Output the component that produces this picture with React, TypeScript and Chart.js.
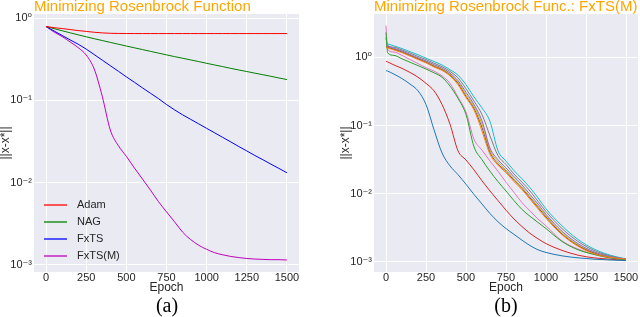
import React, { useEffect, useRef } from 'react';
import { Chart, registerables } from 'chart.js';

Chart.register(...registerables);

// ---------- Data: left panel (a) ----------
const epochsA = [0, 50, 100, 150, 200, 250, 300, 350, 400, 450, 500, 550, 600, 650, 700, 750, 800, 850, 900, 950, 1000, 1050, 1100, 1150, 1200, 1250, 1300, 1350, 1400, 1450, 1500];
const adam = [0.789, 0.765, 0.745, 0.725, 0.705, 0.688, 0.672, 0.66, 0.653, 0.65, 0.649, 0.648, 0.648, 0.648, 0.648, 0.648, 0.648, 0.648, 0.648, 0.648, 0.648, 0.648, 0.648, 0.648, 0.648, 0.648, 0.648, 0.648, 0.648, 0.648, 0.648];
const nag = [0.789, 0.743, 0.701, 0.662, 0.625, 0.592, 0.561, 0.533, 0.506, 0.481, 0.457, 0.435, 0.414, 0.394, 0.375, 0.357, 0.34, 0.325, 0.31, 0.296, 0.282, 0.269, 0.257, 0.245, 0.234, 0.224, 0.214, 0.205, 0.196, 0.187, 0.179];
const fxts = [0.789, 0.697, 0.615, 0.543, 0.481, 0.42, 0.36, 0.308, 0.264, 0.226, 0.193, 0.166, 0.142, 0.122, 0.105, 0.0891, 0.0767, 0.0668, 0.0589, 0.0519, 0.0457, 0.0403, 0.0355, 0.0313, 0.0275, 0.0243, 0.0214, 0.019, 0.0168, 0.0149, 0.0132];
const fxtsM = [0.789, 0.676, 0.596, 0.513, 0.437, 0.355, 0.24, 0.112, 0.0437, 0.0282, 0.0209, 0.0151, 0.0111, 0.00813, 0.00589, 0.00442, 0.00335, 0.00251, 0.00204, 0.00174, 0.00155, 0.00141, 0.00133, 0.00127, 0.00123, 0.0012, 0.00118, 0.00117, 0.00116, 0.00116, 0.00115];
const namesA = ['Adam', 'NAG', 'FxTS', 'FxTS(M)'];
const colorsA = ['#ff0000', '#008000', '#0000ff', '#bf00bf'];

// ---------- Data: right panel (b) ----------
const epochsB = [0, 10, 50, 100, 150, 200, 250, 300, 350, 400, 450, 500, 550, 600, 650, 700, 750, 800, 850, 900, 950, 1000, 1100, 1200, 1300, 1400, 1500];
const run1 = [0.641, 0.631, 0.569, 0.49, 0.407, 0.324, 0.204, 0.0871, 0.0398, 0.0257, 0.0191, 0.0138, 0.00977, 0.00708, 0.00513, 0.00389, 0.00309, 0.00254, 0.00209, 0.00174, 0.00151, 0.00138, 0.00123, 0.00115, 0.0011, 0.00107, 0.00105];
const run2 = [1.413, 1.38, 1.288, 1.175, 1.047, 0.933, 0.832, 0.724, 0.646, 0.537, 0.398, 0.257, 0.17, 0.0832, 0.038, 0.0263, 0.0204, 0.0151, 0.0115, 0.00832, 0.00603, 0.00437, 0.00251, 0.0017, 0.00132, 0.00117, 0.0011];
const run3 = [2.34, 1.175, 1.072, 0.955, 0.851, 0.759, 0.676, 0.596, 0.513, 0.38, 0.251, 0.145, 0.049, 0.0316, 0.0214, 0.0151, 0.011, 0.00794, 0.00589, 0.00468, 0.0038, 0.00309, 0.002, 0.00151, 0.00129, 0.00115, 0.00107];
const run4 = [0.879, 0.861, 0.776, 0.692, 0.603, 0.513, 0.417, 0.324, 0.204, 0.105, 0.0427, 0.0313, 0.0224, 0.0155, 0.011, 0.00794, 0.00575, 0.00427, 0.00331, 0.00263, 0.00219, 0.00186, 0.00148, 0.00126, 0.00115, 0.0011, 0.00105];
const run5 = [1.479, 1.462, 1.365, 1.245, 1.109, 0.989, 0.891, 0.785, 0.7, 0.589, 0.457, 0.309, 0.204, 0.117, 0.0468, 0.0316, 0.024, 0.0178, 0.0135, 0.00977, 0.00708, 0.00501, 0.00282, 0.00186, 0.00141, 0.0012, 0.0011];
const run6 = [1.429, 1.413, 1.318, 1.202, 1.072, 0.955, 0.851, 0.741, 0.661, 0.55, 0.417, 0.269, 0.178, 0.0933, 0.0407, 0.0275, 0.0214, 0.0158, 0.012, 0.00871, 0.00631, 0.00457, 0.00257, 0.00174, 0.00135, 0.00117, 0.0011];
const run7 = [2.92, 1.318, 1.202, 1.072, 0.933, 0.813, 0.708, 0.631, 0.537, 0.417, 0.263, 0.158, 0.0631, 0.0437, 0.0302, 0.0214, 0.0148, 0.0105, 0.00741, 0.00562, 0.00427, 0.00339, 0.00204, 0.00155, 0.00129, 0.00115, 0.00107];
const run8 = [1.905, 1.514, 1.413, 1.288, 1.161, 1.035, 0.933, 0.822, 0.733, 0.624, 0.501, 0.347, 0.229, 0.145, 0.0708, 0.0363, 0.0269, 0.0195, 0.0148, 0.011, 0.00776, 0.0055, 0.00309, 0.002, 0.00148, 0.00123, 0.0011];
const run9 = [1.995, 1.445, 1.334, 1.216, 1.084, 0.966, 0.871, 0.759, 0.676, 0.569, 0.437, 0.288, 0.191, 0.105, 0.0437, 0.0295, 0.0224, 0.0166, 0.0126, 0.00912, 0.00661, 0.00479, 0.00269, 0.00178, 0.00138, 0.00119, 0.0011];
const run10 = [1.622, 1.585, 1.479, 1.349, 1.216, 1.096, 0.977, 0.871, 0.776, 0.661, 0.55, 0.398, 0.263, 0.182, 0.115, 0.0427, 0.0302, 0.0219, 0.0166, 0.0123, 0.00871, 0.00603, 0.00339, 0.00214, 0.00155, 0.00126, 0.00111];
const runsB = [run1, run2, run3, run4, run5, run6, run7, run8, run9, run10];
const colorsB = ['#1f77b4', '#ff7f0e', '#2ca02c', '#d62728', '#9467bd', '#8c564b', '#e377c2', '#7f7f7f', '#bcbd22', '#17becf'];

// ---------- Axes ----------
const xTicks = [0, 250, 500, 750, 1000, 1250, 1500];
const yTicks = [0.001, 0.01, 0.1, 1];
const yTickLabels = ['10⁻³', '10⁻²', '10⁻¹', '10⁰'];

const FONT = '"Liberation Sans", Arial, "DejaVu Sans", sans-serif';
const TEXT = '#262626';

const bgPlugin = {
  id: 'plotBg',
  beforeDraw(chart: any) {
    const { ctx, chartArea } = chart;
    ctx.save();
    ctx.fillStyle = '#eaeaf2';
    ctx.fillRect(chartArea.left, chartArea.top, chartArea.right - chartArea.left, chartArea.bottom - chartArea.top);
    ctx.restore();
  },
};

const innerLegendPlugin = {
  id: 'innerLegend',
  afterDatasetsDraw(chart: any) {
    const { ctx, chartArea } = chart;
    ctx.save();
    ctx.font = '11px ' + FONT;
    ctx.textBaseline = 'middle';
    chart.data.datasets.forEach((ds: any, i: number) => {
      const y = chartArea.bottom - 67 + i * 17;
      ctx.strokeStyle = ds.borderColor;
      ctx.lineWidth = 1.3;
      ctx.beginPath();
      ctx.moveTo(chartArea.left + 10, y);
      ctx.lineTo(chartArea.left + 33, y);
      ctx.stroke();
      ctx.fillStyle = TEXT;
      ctx.fillText(ds.label, chartArea.left + 43, y);
    });
    ctx.restore();
  },
};

type PanelProps = {
  left: number;
  datasets: any[];
  yMin: number;
  yMax: number;
  yAxisWidth: number;
  padRight: number;
  yTitlePad: number;
  legend: boolean;
};

function Panel({ left, datasets, yMin, yMax, yAxisWidth, padRight, yTitlePad, legend }: PanelProps) {
  const ref = useRef<HTMLCanvasElement>(null);
  useEffect(() => {
    const chart = new Chart(ref.current as HTMLCanvasElement, {
      type: 'line',
      data: { datasets },
      options: {
        responsive: false,
        animation: false,
        devicePixelRatio: 1,
        layout: { padding: { top: 14, right: padRight, bottom: 0, left: 0 } },
        elements: { point: { radius: 0 }, line: { borderWidth: 1, cubicInterpolationMode: 'monotone' } },
        plugins: { legend: { display: false }, tooltip: { enabled: false }, title: { display: false } },
        scales: {
          x: {
            type: 'linear',
            min: -75,
            max: 1575,
            afterBuildTicks: (s: any) => {
              s.ticks = xTicks.map((v) => ({ value: v }));
            },
            afterFit: (s: any) => {
              s.height = 24;
            },
            grid: { color: '#ffffff', lineWidth: 1, drawTicks: false },
            border: { display: false },
            ticks: {
              color: TEXT,
              font: { family: FONT, size: 11, lineHeight: 1 },
              padding: 0,
              autoSkip: false,
              maxRotation: 0,
              callback: (v: any) => String(v),
            },
            title: {
              display: true,
              text: 'Epoch',
              color: TEXT,
              font: { family: FONT, size: 12, lineHeight: 1 },
              padding: { top: 0, bottom: 2 },
            },
          },
          y: {
            type: 'logarithmic',
            min: yMin,
            max: yMax,
            afterBuildTicks: (s: any) => {
              s.ticks = yTicks.map((v) => ({ value: v }));
            },
            afterFit: (s: any) => {
              s.width = yAxisWidth;
            },
            grid: { color: '#ffffff', lineWidth: 1, drawTicks: false },
            border: { display: false },
            ticks: {
              color: TEXT,
              font: { family: FONT, size: 11 },
              padding: 2,
              autoSkip: false,
              callback: (_v: any, i: number) => yTickLabels[i],
            },
            title: {
              display: true,
              text: '||x-x*||',
              color: TEXT,
              font: { family: FONT, size: 12, lineHeight: 1 },
              padding: { top: yTitlePad, bottom: 0 },
            },
          },
        },
      } as any,
      plugins: legend ? [bgPlugin, innerLegendPlugin] : [bgPlugin],
    });
    return () => chart.destroy();
  }, []);
  return (
    <canvas
      ref={ref}
      width={320}
      height={296}
      style={{ position: 'absolute', left, top: 0, width: 320, height: 296 }}
    />
  );
}

const titleStyle: React.CSSProperties = {
  position: 'absolute',
  top: -2,
  fontFamily: FONT,
  fontSize: 15,
  lineHeight: '15px',
  color: '#ffa500',
  whiteSpace: 'nowrap',
};

const captionStyle: React.CSSProperties = {
  position: 'absolute',
  top: 295,
  width: 100,
  textAlign: 'center',
  fontFamily: '"Liberation Serif", "Times New Roman", serif',
  fontSize: 20,
  lineHeight: '20px',
  color: '#000',
};

export default function App() {
  const dsA = [adam, nag, fxts, fxtsM].map((vals, i) => ({
    label: namesA[i],
    data: epochsA.map((e, j) => ({ x: e, y: vals[j] })),
    borderColor: colorsA[i],
    backgroundColor: colorsA[i],
    borderWidth: 1,
    fill: false,
  }));
  const dsB = runsB.map((vals, i) => ({
    label: 'Run ' + (i + 1),
    data: epochsB.map((e, j) => ({ x: e, y: vals[j] })),
    borderColor: colorsB[i],
    backgroundColor: colorsB[i],
    borderWidth: 1,
    fill: false,
  }));
  return (
    <div style={{ position: 'fixed', left: 0, top: 0, width: 640, height: 317, background: '#fff', overflow: 'hidden' }}>
      <Panel left={0} datasets={dsA} yMin={0.000822} yMax={1.12} yAxisWidth={34} padRight={21} yTitlePad={0} legend={true} />
      <Panel left={320} datasets={dsB} yMin={0.000713} yMax={4.34} yAxisWidth={54} padRight={2} yTitlePad={20} legend={false} />
      <div style={{ ...titleStyle, left: 34 }}>Minimizing Rosenbrock Function</div>
      <div style={{ ...titleStyle, left: 374 }}>Minimizing Rosenbrock Func.: FxTS(M)</div>
      <div style={{ ...captionStyle, left: 117 }}>(a)</div>
      <div style={{ ...captionStyle, left: 456 }}>(b)</div>
    </div>
  );
}
